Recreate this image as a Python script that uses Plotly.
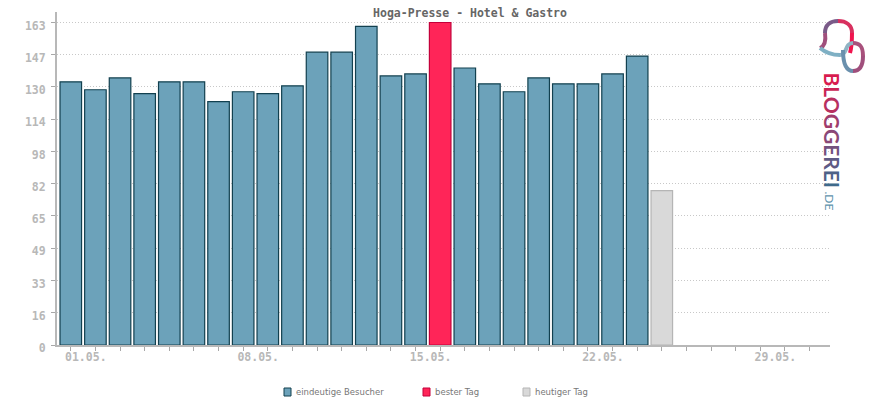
import plotly.graph_objects as go

# === data ===
days = list(range(1, 25))
besucher = [133, 129, 135, 127, 133, 133, 123, 128, 127, 131, 148, 148, 161, 136, 137,
            163, 140, 132, 128, 135, 132, 132, 137, 146]
best_day = 16
today_day = [25]
today_val = [78]

all_days = list(range(1, 32))
x_labels = {1: "01.05.", 8: "08.05.", 15: "15.05.", 22: "22.05.", 29: "29.05."}
y_ticks = [0, 16.3, 32.6, 48.9, 65.2, 81.5, 97.8, 114.1, 130.4, 146.7, 163]
y_labels = ["0", "16", "33", "49", "65", "82", "98", "114", "130", "147", "163"]

legend_names = ["eindeutige Besucher", "bester Tag", "heutiger Tag"]

BLUE, BLUE_LINE = "#6ca2ba", "#12404f"
RED, RED_LINE = "#ff2558", "#c4003a"
GREY, GREY_LINE = "#d9d9d9", "#b5b5b5"
AXIS = "#b8b8b8"
MONO = "DejaVu Sans Mono"

normal_x = [d for d in days if d != best_day]
normal_y = [v for d, v in zip(days, besucher) if d != best_day]
best_y = [v for d, v in zip(days, besucher) if d == best_day]

fig = go.Figure()
fig.add_bar(x=normal_x, y=normal_y, name=legend_names[0], width=0.875,
            marker=dict(color=BLUE, line=dict(color=BLUE_LINE, width=1.2)))
fig.add_bar(x=[best_day], y=best_y, name=legend_names[1], width=0.875,
            marker=dict(color=RED, line=dict(color=RED_LINE, width=1.2)))
fig.add_bar(x=today_day, y=today_val, name=legend_names[2], width=0.875,
            marker=dict(color=GREY, line=dict(color=GREY_LINE, width=1.2)))

# legend drawn by hand, the native one can't do the tight swatch spacing
shapes = []
annotations = []
swatches = [(284, BLUE, BLUE_LINE), (423, RED, RED_LINE), (523, GREY, GREY_LINE)]
for (px_x, fill, edge), name in zip(swatches, legend_names):
    shapes.append(dict(type="rect", xref="paper", yref="paper",
                       x0=(px_x - 57) / 773, x1=(px_x + 7 - 57) / 773,
                       y0=(345 - 396) / 333, y1=(345 - 388) / 333,
                       fillcolor=fill, line=dict(color=edge, width=1)))
    annotations.append(dict(text=name, xref="paper", yref="paper",
                            x=(px_x + 10 - 57) / 773, y=(345 - 392) / 333,
                            xanchor="left", yanchor="middle", showarrow=False,
                            font=dict(family="DejaVu Sans", size=8.5, color="#777777")))

# logo: two loops made of short coloured strokes (pixel coords, converted below)
logo_strokes = [
    ("M820,48 C825,46 826,40 825,33", "#a04f7c"),
    ("M825,33 C825,25 830,21 838,21", "#7a5a88"),
    ("M838,21 C846,21 852,25 852,33", "#d8305f"),
    ("M852,33 C852,40 852,46 850,53", "#f0144e"),
    ("M820,48 C826,53 832,55 840,55", "#7fb0c4"),
    ("M840,55 C848,55 844,43 853,43", "#8fb3c4"),
    ("M853,43 C861,43 863,48 863,56", "#a8517c"),
    ("M863,56 C863,66 860,71 853,71", "#a04f7c"),
    ("M853,71 C846,71 843,64 843,50", "#6a90ad"),
]
for path, col in logo_strokes:
    coords = path.replace("M", "").replace("C", " ").split()
    out = []
    for i, pair in enumerate(coords):
        a, b = pair.split(",")
        pt = f"{(float(a) - 57) / 773:.5f},{(345 - float(b)) / 333:.5f}"
        out.append(("M" if i == 0 else "C" if i == 1 else "") + pt)
    shapes.append(dict(type="path", xref="paper", yref="paper", path=" ".join(out),
                       line=dict(color=col, width=4)))

logo_letters = [("B", "#d81c4f"), ("L", "#c92455"), ("O", "#b8305f"), ("G", "#a03d6d"), ("G", "#8a4877"),
                ("E", "#73527f"), ("R", "#5e5a85"), ("E", "#4d6288"), ("I", "#3f6a8b")]
logo_text = "".join(f'<span style="color:{c}"><b>{l}</b></span>' for l, c in logo_letters)
annotations.append(dict(text=logo_text, xref="paper", yref="paper", x=(832.5 - 57) / 773, y=(345 - 70) / 333,
                        xanchor="center", yanchor="top", showarrow=False, textangle=90,
                        font=dict(family="Lato", size=21, color="#8a4877")))
annotations.append(dict(text=".DE", xref="paper", yref="paper", x=(829 - 57) / 773, y=(345 - 189) / 333,
                        xanchor="center", yanchor="top", showarrow=False, textangle=90,
                        font=dict(family="Lato", size=12, color="#5f93ad")))

fig.update_layout(
    width=870, height=400,
    margin=dict(l=57, r=40, t=12, b=55),
    paper_bgcolor="white", plot_bgcolor="white",
    barmode="overlay", showlegend=False,
    title=dict(text="<b>Hoga-Presse - Hotel & Gastro</b>", x=470 / 870, xanchor="center",
               y=1 - 13 / 400, yanchor="middle",
               font=dict(family=MONO, size=11.5, color="#666666")),
    font=dict(family=MONO),
    shapes=shapes, annotations=annotations,
)
fig.update_xaxes(range=[0.44, 31.83], tickmode="array", tickvals=all_days,
                 ticktext=[x_labels.get(d, "") for d in all_days],
                 ticks="outside", ticklen=4, tickwidth=1, tickcolor="#a8a8a8",
                 ticklabelshift=15, ticklabelstandoff=-4,
                 tickangle=0, tickfont=dict(family=MONO, size=11.5, color=AXIS, weight="bold"),
                 showline=True, linecolor=AXIS, linewidth=2, showgrid=False, zeroline=False)
fig.update_yaxes(range=[0, 168.3], tickmode="array", tickvals=y_ticks, ticktext=y_labels,
                 ticks="outside", ticklen=4, tickwidth=1, tickcolor="#a8a8a8",
                 ticklabelshift=3, ticklabelstandoff=3,
                 tickfont=dict(family=MONO, size=11.5, color=AXIS, weight="bold"),
                 showline=True, linecolor=AXIS, linewidth=2, zeroline=False,
                 showgrid=True, gridcolor="#c8c8c8", gridwidth=1, griddash="1px,2px")

# default page margin would push the figure 8px in
fig.write_html("out.html", config=dict(displayModeBar=False),
               post_script="document.body.style.margin='0';")
